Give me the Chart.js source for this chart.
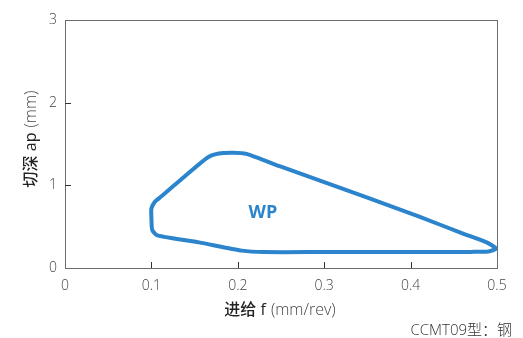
<!DOCTYPE html>
<html>
<head>
<meta charset="utf-8">
<script src="https://cdn.jsdelivr.net/npm/chart.js@4.4.0/dist/chart.umd.min.js"></script>
<style>
  html, body { margin: 0; padding: 0; background: #fff; }
  #wrap { width: 523px; height: 338px; position: relative; }
</style>
</head>
<body>
<div id="wrap"><canvas id="c"></canvas></div>
<script>
// 加工范围轮廓 (f, ap)
const feed  = [0.100, 0.100, 0.104, 0.112, 0.164, 0.178, 0.195, 0.210, 0.250, 0.300, 0.350, 0.410, 0.460, 0.488, 0.499, 0.490, 0.470, 0.400, 0.300, 0.230, 0.205, 0.155, 0.107, 0.101, 0.100];
const depth = [0.60, 0.72, 0.80, 0.87, 1.33, 1.385, 1.395, 1.38, 1.225, 1.04, 0.85, 0.62, 0.42, 0.31, 0.235, 0.20, 0.195, 0.193, 0.193, 0.193, 0.21, 0.31, 0.395, 0.46, 0.60];
const xTicks = [0, 0.1, 0.2, 0.3, 0.4, 0.5];
const yTicks = [0, 1, 2, 3];
const areaLabel = 'WP';

const BLUE = '#2b84cc';
const FONT = '"Open Sans", "Noto Sans CJK SC", sans-serif';

const pts = feed.map((f, i) => ({ x: f, y: depth[i] }));

const frame = {
  id: 'frame',
  afterDraw(chart) {
    const { ctx, chartArea: a, scales: { x, y } } = chart;
    ctx.save();
    ctx.strokeStyle = '#6b6b6b';
    ctx.lineWidth = 1;
    ctx.strokeRect(Math.round(a.left) + 0.5, Math.round(a.top) + 0.5, Math.round(a.right - a.left), Math.round(a.bottom - a.top));
    // 内向刻度
    ctx.strokeStyle = '#333';
    ctx.beginPath();
    xTicks.slice(1, -1).forEach(v => {
      const px = Math.round(x.getPixelForValue(v)) + 0.5;
      ctx.moveTo(px, a.bottom); ctx.lineTo(px, a.bottom - 6);
    });
    yTicks.slice(1, -1).forEach(v => {
      const py = Math.round(y.getPixelForValue(v)) + 0.5;
      ctx.moveTo(a.left, py); ctx.lineTo(a.left + 6, py);
    });
    ctx.stroke();

    // WP
    ctx.fillStyle = BLUE;
    ctx.font = 'bold 18px ' + FONT;
    ctx.textAlign = 'center';
    ctx.textBaseline = 'middle';
    ctx.fillText(areaLabel, x.getPixelForValue(0.229), y.getPixelForValue(0.665));

    // 坐标轴标题
    const main = '500 16px ' + FONT, unit = '300 16px ' + FONT;
    ctx.fillStyle = '#222';
    ctx.textBaseline = 'middle';
    ctx.font = main;
    const t1 = '进给 f', t2 = '(mm/rev)';
    const w1 = ctx.measureText(t1).width;
    ctx.font = unit;
    const w2 = ctx.measureText(t2).width;
    let sx = 280 - (w1 + 5 + w2) / 2;
    ctx.textAlign = 'left';
    ctx.font = main;
    ctx.fillText(t1, sx, 310);
    ctx.font = unit;
    ctx.fillStyle = '#444';
    ctx.fillText(t2, sx + w1 + 5, 310);

    ctx.save();
    ctx.translate(31, 139);
    ctx.rotate(-Math.PI / 2);
    const y1 = '切深 ap', y2 = '(mm)';
    ctx.font = main;
    const v1 = ctx.measureText(y1).width;
    ctx.font = unit;
    const v2 = ctx.measureText(y2).width;
    let sy = -(v1 + 5 + v2) / 2;
    ctx.fillStyle = '#222';
    ctx.font = main;
    ctx.fillText(y1, sy, 0);
    ctx.font = unit;
    ctx.fillStyle = '#444';
    ctx.fillText(y2, sy + v1 + 5, 0);
    ctx.restore();

    ctx.fillStyle = '#333';
    ctx.font = '300 15px ' + FONT;
    ctx.textAlign = 'right';
    ctx.fillText('CCMT09型：钢', 512, 331);
    ctx.restore();
  }
};

new Chart(document.getElementById('c'), {
  type: 'scatter',
  data: {
    datasets: [{
      data: pts,
      showLine: true,
      borderColor: BLUE,
      borderWidth: 4,
      tension: 0.22,
      pointRadius: 0,
      fill: false
    }]
  },
  options: {
    responsive: true,
    maintainAspectRatio: false,
    animation: false,
    layout: { padding: { top: 20, right: 26, left: 0, bottom: 0 } },
    plugins: { legend: { display: false }, tooltip: { enabled: false } },
    scales: {
      x: {
        type: 'linear', min: 0, max: 0.5,
        afterBuildTicks: s => { s.ticks = xTicks.map(v => ({ value: v })); },
        afterFit: s => { s.height = 70; },
        grid: { display: false, drawTicks: false },
        border: { display: false },
        ticks: { color: '#444', font: { family: FONT, size: 14, weight: '300' }, padding: 10, maxRotation: 0,
                 callback: v => String(v) }
      },
      y: {
        type: 'linear', min: 0, max: 3,
        afterBuildTicks: s => { s.ticks = yTicks.map(v => ({ value: v })); },
        afterFit: s => { s.width = 65; },
        grid: { display: false, drawTicks: false },
        border: { display: false },
        ticks: { color: '#444', font: { family: FONT, size: 14, weight: '300' }, padding: 8 }
      }
    }
  },
  plugins: [frame]
});
</script>
</body>
</html>
